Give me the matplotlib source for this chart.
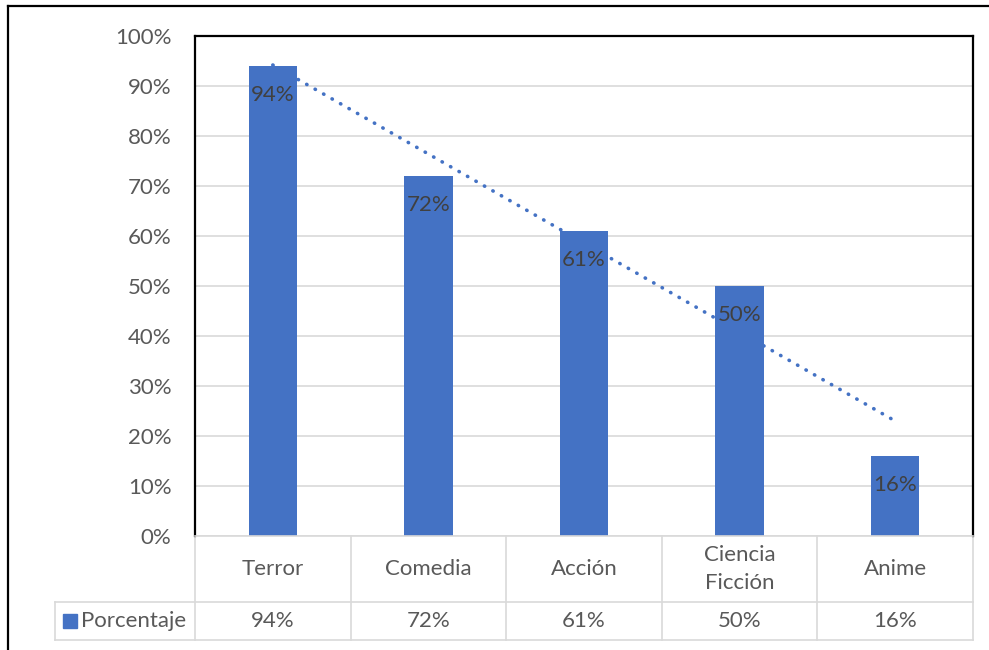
import numpy as np
import matplotlib
matplotlib.use("Agg")
import matplotlib.pyplot as plt
from matplotlib.lines import Line2D
from matplotlib.patches import Rectangle

plt.rcParams["font.family"] = ["Lato", "DejaVu Sans"]

# Data
categories = ["Terror", "Comedia", "Acción", "Ciencia\nFicción", "Anime"]
values = [94, 72, 61, 50, 16]
series_name = "Porcentaje"
yticks = [0, 10, 20, 30, 40, 50, 60, 70, 80, 90, 100]

BLUE = "#4472C4"
GRID = "#D9D9D9"
TEXT = "#595959"
LABEL = "#404040"
FS = 16

W, H = 989, 650
fig = plt.figure(figsize=(W / 100, H / 100), dpi=100)

# plot area in pixels
L, R, T, B = 195, 973, 36, 536
ax = fig.add_axes([L / W, 1 - B / H, (R - L) / W, (B - T) / H])

x = np.arange(1, len(values) + 1)
ax.bar(x, values, width=0.31, color=BLUE, zorder=2)

# linear trendline
slope, icpt = np.polyfit(x, values, 1)
ax.plot(x, slope * x + icpt, color=BLUE, lw=2.6,
        linestyle=(0, (0.1, 2.6)), dash_capstyle="round", zorder=3)

for xi, v in zip(x, values):
    ax.annotate(f"{v}%", (xi, v), xytext=(0, -29), textcoords="offset pixels",
                ha="center", va="center", fontsize=FS, color=LABEL, zorder=4)

ax.set_xlim(0.5, len(values) + 0.5)
ax.set_ylim(0, 100)
ax.set_yticks(yticks)
ax.set_yticklabels([f"{t}%" for t in yticks], fontsize=FS, color=TEXT)
ax.tick_params(axis="y", length=0, pad=17)
ax.set_xticks([])
ax.yaxis.grid(True, color=GRID, lw=1.2, zorder=0)
ax.set_axisbelow(True)
for s in ["top", "left", "right"]:
    ax.spines[s].set_color("black")
    ax.spines[s].set_linewidth(1.6)
ax.spines["bottom"].set_color(GRID)
ax.spines["bottom"].set_linewidth(1.2)

# data table below the plot area
tr = ax.get_xaxis_transform()
def yf(py):
    return (B - py) / (B - T)

row1, row2 = 602, 640
edges = np.arange(0.5, len(values) + 1, 1.0)
for e in edges:
    ax.add_line(Line2D([e, e], [yf(B), yf(row2)], transform=tr, color=GRID,
                       lw=1.2, clip_on=False))
for py in (row1, row2):
    fig.add_artist(Line2D([55 / W, R / W], [1 - py / H] * 2, transform=fig.transFigure,
                          color=GRID, lw=1.2))
fig.add_artist(Line2D([55 / W] * 2, [1 - row1 / H, 1 - row2 / H],
                      transform=fig.transFigure, color=GRID, lw=1.2))

for xi, c, v in zip(x, categories, values):
    ax.text(xi, yf(569), c, transform=tr, ha="center", va="center",
            fontsize=FS, color=TEXT, linespacing=1.45)
    ax.text(xi, yf(621), f"{v}%", transform=tr, ha="center", va="center",
            fontsize=FS, color=TEXT)

fig.add_artist(Rectangle((63 / W, 1 - 628 / H), 14 / W, 14 / H,
                         transform=fig.transFigure, color=BLUE))
fig.text(81 / W, 1 - 621 / H, series_name, ha="left", va="center",
         fontsize=FS, color=TEXT)

# outer chart frame (top and left edges visible)
fig.add_artist(Line2D([8 / W, 1], [1 - 6 / H] * 2, transform=fig.transFigure,
                      color="black", lw=1.6))
fig.add_artist(Line2D([8 / W] * 2, [1 - 6 / H, 0], transform=fig.transFigure,
                      color="black", lw=1.6))

fig.savefig("out.png", dpi=100)
